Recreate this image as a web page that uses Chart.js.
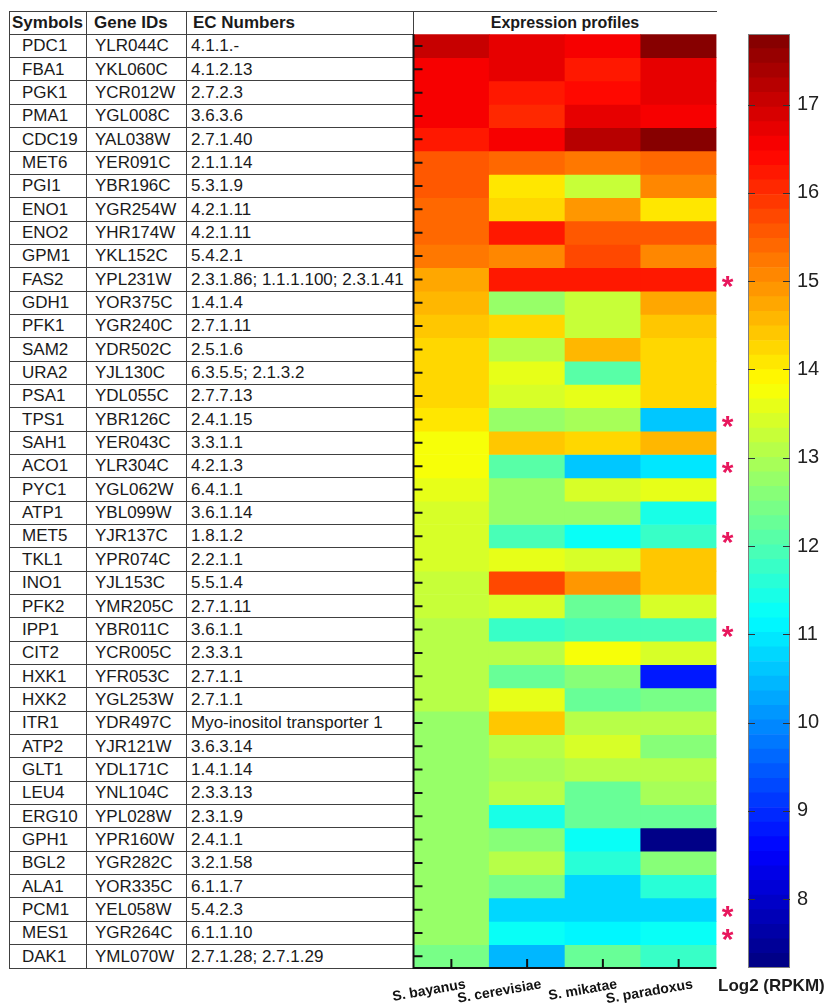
<!DOCTYPE html>
<html>
<head>
<meta charset="utf-8">
<script src="https://cdn.jsdelivr.net/npm/chart.js@4.4.1/dist/chart.umd.min.js"></script>
<style>
  body { margin: 0; background: #fff; font-family: Arial, "Liberation Sans", sans-serif; }
  #page { position: relative; width: 829px; height: 1005px; overflow: hidden; }
  #gene-table { position: absolute; left: 0; top: 0; width: 829px; height: 1005px; color: #1a1a1a; }
  .hline, .vline { position: absolute; background: #404040; }
  .cell { position: absolute; font-size: 17px; white-space: nowrap; }
  .head { font-weight: bold; font-size: 17px; }
  canvas { position: absolute; top: 0; }
  #heatmap { left: 0; }
  #colorbar { left: 700px; }
  #cb-title { position: absolute; left: 718px; top: 976px; font-weight: bold; font-size: 17px; color: #1a1a1a; }
</style>
</head>
<body>
<div id="page">
  <div id="gene-table"></div>
  <canvas id="heatmap" width="829" height="1005"></canvas>
  <canvas id="colorbar" width="129" height="1005"></canvas>
  <div id="cb-title">Log2 (RPKM)</div>
</div>
<script>
const species = ["S. bayanus", "S. cerevisiae", "S. mikatae", "S. paradoxus"];

const symbols = ["PDC1", "FBA1", "PGK1", "PMA1", "CDC19", "MET6", "PGI1", "ENO1", "ENO2", "GPM1",
  "FAS2", "GDH1", "PFK1", "SAM2", "URA2", "PSA1", "TPS1", "SAH1", "ACO1", "PYC1",
  "ATP1", "MET5", "TKL1", "INO1", "PFK2", "IPP1", "CIT2", "HXK1", "HXK2", "ITR1",
  "ATP2", "GLT1", "LEU4", "ERG10", "GPH1", "BGL2", "ALA1", "PCM1", "MES1", "DAK1"];

const geneIds = ["YLR044C", "YKL060C", "YCR012W", "YGL008C", "YAL038W", "YER091C", "YBR196C", "YGR254W", "YHR174W", "YKL152C",
  "YPL231W", "YOR375C", "YGR240C", "YDR502C", "YJL130C", "YDL055C", "YBR126C", "YER043C", "YLR304C", "YGL062W",
  "YBL099W", "YJR137C", "YPR074C", "YJL153C", "YMR205C", "YBR011C", "YCR005C", "YFR053C", "YGL253W", "YDR497C",
  "YJR121W", "YDL171C", "YNL104C", "YPL028W", "YPR160W", "YGR282C", "YOR335C", "YEL058W", "YGR264C", "YML070W"];

const ecNumbers = ["4.1.1.-", "4.1.2.13", "2.7.2.3", "3.6.3.6", "2.7.1.40", "2.1.1.14", "5.3.1.9", "4.2.1.11", "4.2.1.11", "5.4.2.1",
  "2.3.1.86; 1.1.1.100; 2.3.1.41", "1.4.1.4", "2.7.1.11", "2.5.1.6", "6.3.5.5; 2.1.3.2", "2.7.7.13", "2.4.1.15", "3.3.1.1", "4.2.1.3", "6.4.1.1",
  "3.6.1.14", "1.8.1.2", "2.2.1.1", "5.5.1.4", "2.7.1.11", "3.6.1.1", "2.3.3.1", "2.7.1.1", "2.7.1.1", "Myo-inositol transporter 1",
  "3.6.3.14", "1.4.1.14", "2.3.3.13", "2.3.1.9", "2.4.1.1", "3.2.1.58", "6.1.1.7", "5.4.2.3", "6.1.1.10", "2.7.1.28; 2.7.1.29"];

// log2(RPKM) per species, same order as symbols
const bayanus = [17.0, 16.5, 16.5, 16.5, 16.3, 15.56, 15.56, 15.4, 15.4, 15.3,
  14.67, 14.55, 14.4, 14.25, 14.25, 14.25, 14.1, 13.8, 13.8, 13.65,
  13.45, 13.45, 13.45, 13.3, 13.3, 13.15, 13.15, 13.15, 13.05, 12.8,
  12.8, 12.8, 12.7, 12.7, 12.7, 12.7, 12.7, 12.7, 12.7, 12.5];
const cerevisiae = [16.74, 16.7, 16.2, 16.1, 16.5, 15.45, 14.1, 14.25, 16.3, 15.0,
  16.3, 12.7, 14.25, 13.15, 13.6, 13.45, 12.8, 14.35, 12.15, 12.8,
  12.8, 11.97, 13.6, 15.7, 13.5, 11.8, 13.05, 12.3, 13.6, 14.35,
  13.15, 13.0, 13.15, 11.5, 12.65, 13.15, 12.5, 10.75, 11.2, 10.4];
const mikatae = [16.5, 16.2, 16.4, 16.7, 17.27, 15.3, 13.3, 14.9, 15.6, 15.7,
  16.2, 13.3, 13.3, 14.55, 12.15, 13.6, 12.9, 14.2, 10.6, 13.45,
  12.8, 11.3, 13.45, 14.9, 12.3, 11.97, 13.8, 12.65, 12.3, 13.05,
  13.35, 13.15, 12.2, 12.2, 11.3, 11.6, 10.7, 10.7, 11.05, 12.3];
const paradoxus = [17.8, 16.7, 16.75, 16.5, 17.67, 15.4, 15.0, 14.1, 15.5, 15.0,
  16.2, 14.67, 14.35, 14.2, 14.25, 14.25, 10.6, 14.5, 10.9, 13.55,
  11.5, 11.74, 14.35, 14.35, 13.5, 11.85, 13.5, 8.8, 12.5, 13.05,
  12.65, 13.15, 12.9, 12.2, 7.3, 12.65, 11.6, 10.7, 11.2, 11.75];

const starred = ["FAS2", "TPS1", "ACO1", "MET5", "IPP1", "PCM1", "MES1"];

const cbMin = 7.22;
const cbMax = 17.8;
const levels = 64;

const expression = [bayanus, cerevisiae, mikatae, paradoxus];
const font = "Arial, 'Liberation Sans', sans-serif";
const rowTop = 34.3;
const rowH = (968 - 34.3) / symbols.length;

function clamp(v) {
  return Math.max(0, Math.min(1, v));
}

function jetLevel(k) {
  const t = (k + 0.5) / levels;
  const r = clamp(Math.min(4 * t - 1.5, -4 * t + 4.5));
  const g = clamp(Math.min(4 * t - 0.5, -4 * t + 3.5));
  const b = clamp(Math.min(4 * t + 0.5, -4 * t + 2.5));
  return `rgb(${Math.round(r * 255)}, ${Math.round(g * 255)}, ${Math.round(b * 255)})`;
}

function jetColor(v) {
  const k = Math.floor((v - cbMin) / (cbMax - cbMin) * levels);
  return jetLevel(Math.max(0, Math.min(levels - 1, k)));
}

function addBox(cls, style, text) {
  const d = document.createElement("div");
  d.className = cls;
  Object.assign(d.style, style);
  if (text) d.textContent = text;
  document.getElementById("gene-table").appendChild(d);
}

function buildTable() {
  const colX = [9, 86, 186, 413];
  const pads = [13, 9, 5];
  const headPads = [3, 8, 7];
  const headers = ["Symbols", "Gene IDs", "EC Numbers"];
  const columns = [symbols, geneIds, ecNumbers];

  addBox("hline", { left: "9px", top: "11px", width: "708px", height: "1px" });
  for (let i = 0; i <= symbols.length; i++) {
    addBox("hline", { left: "9px", top: (rowTop + i * rowH - 0.5) + "px", width: "404px", height: "1px" });
  }
  colX.forEach(x => {
    addBox("vline", { left: (x - 0.5) + "px", top: "11px", width: "1px", height: (968 - 11) + "px" });
  });

  headers.forEach((h, c) => {
    addBox("cell head", { left: (colX[c] + headPads[c]) + "px", top: "11px", lineHeight: "23px" }, h);
  });
  addBox("cell head", { left: "413px", width: "304px", textAlign: "center", top: "11px", lineHeight: "23px", fontSize: "16px" }, "Expression profiles");

  columns.forEach((col, c) => {
    col.forEach((txt, i) => {
      addBox("cell", { left: (colX[c] + pads[c]) + "px", top: (rowTop + i * rowH) + "px", lineHeight: rowH + "px" }, txt);
    });
  });
}

const heatFrame = {
  id: "heatFrame",
  afterDraw(chart) {
    const { ctx, chartArea, scales } = chart;
    ctx.save();
    ctx.strokeStyle = "#111";
    ctx.lineWidth = 2;
    ctx.beginPath();
    ctx.moveTo(chartArea.left, chartArea.top);
    ctx.lineTo(chartArea.left, chartArea.bottom);
    ctx.lineTo(chartArea.right, chartArea.bottom);
    symbols.forEach((s, i) => {
      const y = scales.y.getPixelForValue(i + 0.5);
      ctx.moveTo(chartArea.left, y);
      ctx.lineTo(chartArea.left + 9, y);
    });
    species.forEach((s, j) => {
      const x = scales.x.getPixelForValue(j);
      ctx.moveTo(x, chartArea.bottom);
      ctx.lineTo(x, chartArea.bottom - 9);
    });
    ctx.stroke();

    ctx.fillStyle = "#e8175d";
    ctx.font = "bold 30px " + font;
    ctx.textAlign = "center";
    ctx.textBaseline = "middle";
    symbols.forEach((s, i) => {
      if (starred.includes(s)) {
        ctx.fillText("*", chartArea.right + 11, scales.y.getPixelForValue(i + 0.5) + 8);
      }
    });
    ctx.restore();
  }
};

const colorbarFrame = {
  id: "colorbarFrame",
  afterDraw(chart) {
    const { ctx, chartArea, scales } = chart;
    ctx.save();
    ctx.strokeStyle = "#808080";
    ctx.lineWidth = 1;
    ctx.strokeRect(chartArea.left + 0.5, chartArea.top + 0.5, chartArea.width - 1, chartArea.height - 1);
    ctx.strokeStyle = "#333";
    ctx.beginPath();
    scales.y.ticks.forEach(t => {
      const y = Math.round(scales.y.getPixelForValue(t.value)) + 0.5;
      ctx.moveTo(chartArea.left, y);
      ctx.lineTo(chartArea.left + 7, y);
      ctx.moveTo(chartArea.right, y);
      ctx.lineTo(chartArea.right - 7, y);
    });
    ctx.stroke();
    ctx.restore();
  }
};

buildTable();

new Chart(document.getElementById("heatmap"), {
  type: "bar",
  data: {
    labels: species,
    datasets: symbols.map((sym, i) => ({
      label: sym,
      data: species.map(() => [i, i + 1]),
      backgroundColor: expression.map(values => jetColor(values[i])),
      grouped: false,
      barPercentage: 1,
      categoryPercentage: 1,
      borderWidth: 0
    }))
  },
  options: {
    responsive: false,
    animation: false,
    layout: { padding: { left: 413.5, top: rowTop, right: 112.5, bottom: 0 } },
    plugins: { legend: { display: false }, tooltip: { enabled: false } },
    scales: {
      x: {
        grid: { display: false, drawTicks: false },
        border: { display: false },
        ticks: {
          autoSkip: false,
          color: "#111",
          font: { family: font, size: 14, weight: "bold" },
          minRotation: 10,
          maxRotation: 10,
          labelOffset: 14,
          padding: 8
        },
        afterFit(scale) { scale.height = 37; }
      },
      y: { type: "linear", min: 0, max: symbols.length, reverse: true, display: false }
    }
  },
  plugins: [heatFrame]
});

const cbLevels = Array.from({ length: levels }, (_, k) => k);
const cbStep = (cbMax - cbMin) / levels;

new Chart(document.getElementById("colorbar"), {
  type: "bar",
  data: {
    labels: [""],
    datasets: cbLevels.map(k => ({
      data: [[cbMin + k * cbStep, cbMin + (k + 1) * cbStep]],
      backgroundColor: jetLevel(k),
      grouped: false,
      barPercentage: 1,
      categoryPercentage: 1,
      borderWidth: 0
    }))
  },
  options: {
    responsive: false,
    animation: false,
    layout: { padding: { left: 48, top: 34, right: 0, bottom: 37 } },
    plugins: { legend: { display: false }, tooltip: { enabled: false } },
    scales: {
      x: { display: false },
      y: {
        position: "right",
        min: cbMin,
        max: cbMax,
        grid: { display: false, drawTicks: false },
        border: { display: false },
        ticks: {
          stepSize: 1,
          includeBounds: false,
          color: "#222",
          padding: 7,
          font: { family: font, size: 20 }
        },
        afterFit(scale) { scale.width = 39; }
      }
    }
  },
  plugins: [colorbarFrame]
});
</script>
</body>
</html>
